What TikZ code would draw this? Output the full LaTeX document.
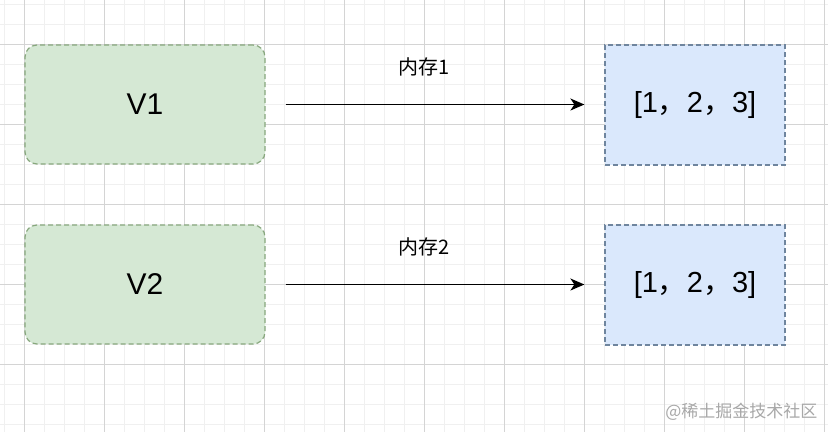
\documentclass[tikz,border=0pt]{standalone}
\usepackage{fontspec}
\setmainfont{Liberation Sans}
\newfontfamily\cjk{Noto Sans CJK SC}
\usetikzlibrary{arrows.meta}
\definecolor{gridminor}{HTML}{F0F0F0}
\definecolor{gridmajor}{HTML}{D4D4D4}
\definecolor{gfill}{HTML}{D5E8D4}
\definecolor{gdraw}{HTML}{87A77D}
\definecolor{bfill}{HTML}{DAE8FC}
\definecolor{bdraw}{HTML}{6F859E}
\definecolor{wm}{HTML}{A8A8A8}
\tikzset{
  varbox/.style={draw=gdraw, fill=gfill, line width=1.2pt, dash pattern=on 5pt off 3pt,
    rounded corners=12pt, minimum width=240pt, minimum height=119pt,
    font=\fontsize{30}{30}\selectfont},
  arrbox/.style={draw=bdraw, fill=bfill, line width=1.2pt, dash pattern=on 5pt off 3pt,
    minimum width=180pt, minimum height=120pt, font=\fontsize{29}{29}\selectfont},
  ptr/.style={line width=1.8pt, -{Stealth[length=14pt,width=12pt,inset=4pt]},
    shorten <=20pt, shorten >=20pt},
  lbl/.style={font=\cjk\fontsize{20}{20}\selectfont}
}
\begin{document}
\begin{tikzpicture}[x=1pt,y=-1pt]
\useasboundingbox (0,0) rectangle (828,432);
\fill[white] (0,0) rectangle (828,432);
\foreach \x in {4,24,...,824} \draw[gridminor, line width=0.8pt] (\x,0) -- (\x,432);
\foreach \y in {4,24,...,424} \draw[gridminor, line width=0.8pt] (0,\y) -- (828,\y);
\foreach \x in {24,104,...,824} \draw[gridmajor, line width=0.8pt] (\x,0) -- (\x,432);
\foreach \y in {44,124,...,364} \draw[gridmajor, line width=0.8pt] (0,\y) -- (828,\y);

\node[varbox] (v1) at (145,104.5) {V1};
\node[varbox] (v2) at (145,284.5) {V2};
\node[arrbox] (a1) at (695,105) {[1{\cjk ，}2{\cjk ，}3]};
\node[arrbox] (a2) at (695,285) {[1{\cjk ，}2{\cjk ，}3]};

\draw[ptr] (v1.east) -- (a1.west |- v1.east);
\draw[ptr] (v2.east) -- (a2.west |- v2.east);

\node[lbl] (l1) at (424,67) {内存1};
\node[lbl] (l2) at (424,247) {内存2};

\node[font=\cjk\fontsize{17}{17}\selectfont, text=wm, anchor=east] (w) at (821,412) {@稀土掘金技术社区};
\end{tikzpicture}
\end{document}
